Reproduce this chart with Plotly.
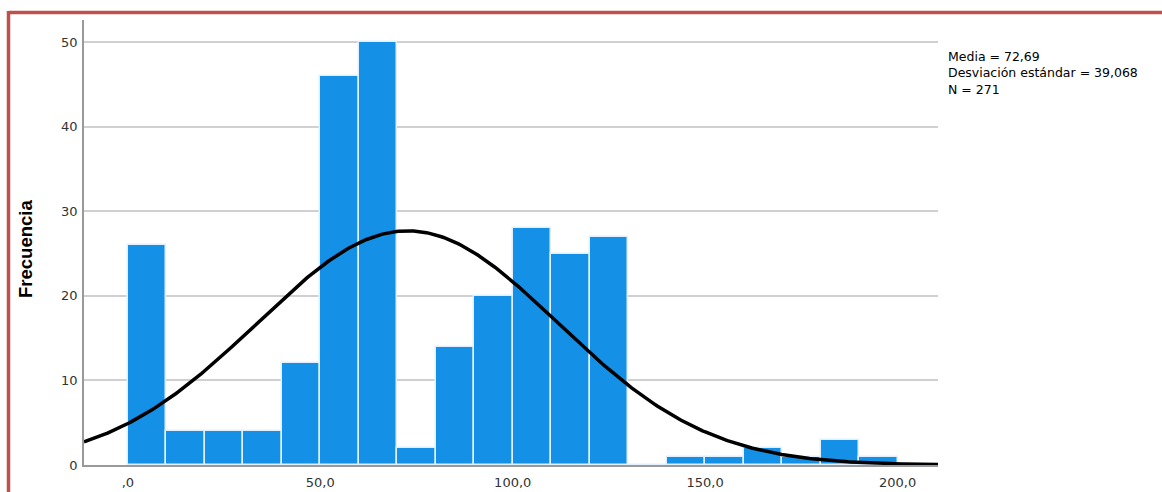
import numpy as np
import plotly.graph_objects as go

# Data
bin_starts = [0, 10, 20, 30, 40, 50, 60, 70, 80, 90, 100, 110, 120, 130, 140, 150, 160, 170, 180, 190]
frequencies = [26, 4, 4, 4, 12, 46, 50, 2, 14, 20, 28, 25, 27, 0, 1, 1, 2, 1, 3, 1]
bin_width = 10
media = 72.69
desviacion = 39.068
n_total = 271
x_tickvals = [0, 50, 100, 150, 200]
x_ticktext = [",0", "50,0", "100,0", "150,0", "200,0"]
y_tickvals = [0, 10, 20, 30, 40, 50]
stats_lines = ["Media = 72,69", "Desviación estándar = 39,068", "N = 271"]

W, H = 1162, 492
L, R, T, B = 84, 938, 20, 465

x_range = [-11.4, 210.5]
y_range = [0, 52.6]

centers = [s + bin_width / 2 for s in bin_starts]

fig = go.Figure()
fig.add_trace(go.Bar(
    x=centers, y=frequencies, width=bin_width,
    marker=dict(color="rgb(20,144,230)", line=dict(color="rgba(225,240,255,1)", width=1.5)),
    showlegend=False, hoverinfo="x+y",
))

# normal curve defined by the chart's mean / sd / N
xc = np.linspace(x_range[0], x_range[1], 400)
yc = n_total * bin_width / (desviacion * np.sqrt(2 * np.pi)) * np.exp(-0.5 * ((xc - media) / desviacion) ** 2)
fig.add_trace(go.Scatter(x=xc, y=yc, mode="lines", line=dict(color="black", width=3.5),
                         showlegend=False, hoverinfo="skip", cliponaxis=True))

def px(xp):
    return (xp - L) / (R - L)

def py(yp):
    return (B - yp) / (B - T)

tick_font = dict(family="DejaVu Sans, Liberation Sans, sans-serif", size=13, color="#333333")

annotations = [
    dict(text="Frecuencia", textangle=-90, xref="paper", yref="paper",
         x=px(25), y=py(249), showarrow=False, xanchor="center", yanchor="middle",
         font=dict(family="Liberation Sans, Arial, sans-serif", size=18.5, color="black", weight="bold")),
    dict(text="<br>".join(stats_lines), xref="paper", yref="paper", x=px(946), y=py(47),
         showarrow=False, xanchor="left", yanchor="top", align="left",
         font=dict(family="DejaVu Sans, Liberation Sans, sans-serif", size=12.5, color="black")),
]

fig.update_layout(
    width=W, height=H,
    margin=dict(l=L, r=W - R, t=T, b=H - B, pad=0, autoexpand=False),
    paper_bgcolor="white", plot_bgcolor="white",
    bargap=0,
    font=dict(family="DejaVu Sans, Liberation Sans, sans-serif", size=13, color="#333333"),
    xaxis=dict(range=x_range, tickvals=x_tickvals, ticktext=x_ticktext, automargin=False,
               showgrid=False, zeroline=False, showline=True, linecolor="#999999", linewidth=1.5,
               ticks="outside", ticklen=5, tickcolor="white", tickfont=tick_font),
    yaxis=dict(range=y_range, tickvals=y_tickvals, showgrid=True, gridcolor="#d0d0d0", gridwidth=1.5,
               automargin=False,
               zeroline=False, showline=True, linecolor="#999999", linewidth=1.5,
               ticks="outside", ticklen=2, tickcolor="white", tickfont=tick_font),
    annotations=annotations,
    shapes=[
        dict(type="line", xref="paper", yref="paper", x0=px(8.5), x1=px(1170), y0=py(12.5), y1=py(12.5),
             line=dict(color="rgb(192,80,77)", width=3.5)),
        dict(type="line", xref="paper", yref="paper", x0=px(8.5), x1=px(8.5), y0=py(11), y1=py(500),
             line=dict(color="rgb(192,80,77)", width=3.5)),
    ],
)

fig.write_html("out.html", config={"displayModeBar": False},
               post_script="document.body.style.margin='0';document.body.style.padding='0';document.body.style.overflow='hidden';")
